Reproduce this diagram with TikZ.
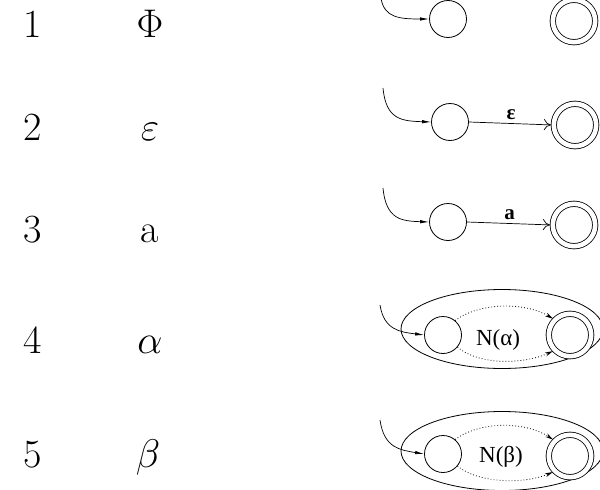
\RequirePackage{fix-cm}
\documentclass[tikz,border=0pt]{standalone}
\usepackage{fontspec}
\newfontfamily\tms{Liberation Serif}
\usetikzlibrary{arrows.meta,shapes.geometric}
\begin{document}
\begin{tikzpicture}[x=1pt,y=-1pt,line width=0.8pt,
  bigtxt/.style={anchor=base,font=\fontsize{40}{48}\selectfont},
  st/.style={circle,draw,minimum size=37pt,inner sep=0pt},
  fin/.style={circle,draw,double,double distance=4.6pt,minimum size=42.4pt,inner sep=0pt},
  box/.style={ellipse,draw,minimum width=202pt,minimum height=79pt,inner sep=0pt},
  entry/.style={-{Latex[length=9pt,width=3.4pt]},line width=0.7pt},
  trans/.style={-{To[length=7pt,width=11pt]},line width=0.7pt,shorten >=2.5pt},
  inner/.style={dash pattern=on 0.8pt off 2.2pt,line width=0.8pt,-{Stealth[length=8pt,width=4pt]},shorten >=2pt},
  lbl/.style={font=\tms\bfseries\fontsize{21}{24}\selectfont,inner sep=1pt},
  nlbl/.style={font=\tms\fontsize{23}{27}\selectfont}]
\useasboundingbox (0,0) rectangle (600,490);

% left column: case number and regular expression
\node[bigtxt] (n1) at (33,37) {1};
\node[bigtxt] (n2) at (33,140) {2};
\node[bigtxt] (n3) at (33,242) {3};
\node[bigtxt] (n4) at (33,353) {4};
\node[bigtxt] (n5) at (33,467) {5};
\node[bigtxt] (r1) at (150,37) {$\Phi$};
\node[bigtxt] (r2) at (150,140) {$\varepsilon$};
\node[bigtxt] (r3) at (150,242) {a};
\node[bigtxt] (r4) at (150,353) {$\alpha$};
\node[bigtxt] (r5) at (148,467) {$\beta$};

% case 1: empty language
\node[st] (s1) at (448,19) {};
\node[fin] (f1) at (574,21) {};
\coordinate (e1) at (381,-2);
\draw[entry] (e1) .. controls (384,18) and (400,19) .. (s1.west);

% case 2: epsilon
\node[st] (s2) at (450,122) {};
\node[fin] (f2) at (575,125) {};
\coordinate (e2) at (383,88);
\draw[entry] (e2) .. controls (386,120) and (402,121) .. (s2.west);
\draw[trans] (s2.east) -- node[lbl,above=2pt] {ε} (f2.west);

% case 3: single symbol
\node[st] (s3) at (448,222) {};
\node[fin] (f3) at (574,225) {};
\coordinate (e3) at (383,188);
\draw[entry] (e3) .. controls (386,220) and (402,221) .. (s3.west);
\draw[trans] (s3.east) -- node[lbl,above=2pt] {a} (f3.west);

% case 4: N(alpha)
\node[box] (b4) at (502,329) {};
\node[st] (s4) at (443,335) {};
\node[fin] (f4) at (570,335) {};
\node[nlbl] (l4) at (498,340) {N(α)};
\coordinate (e4) at (380,305);
\draw[entry] (e4) .. controls (384,330) and (400,332) .. (s4.west);
\draw[inner] (s4.50) .. controls (480,302) and (525,302) .. (f4.135);
\draw[inner] (s4.-40) .. controls (480,366) and (525,364) .. (f4.-135);

% case 5: N(beta)
\node[box] (b5) at (502,451) {};
\node[st] (s5) at (443,454) {};
\node[fin] (f5) at (570,456) {};
\node[nlbl] (l5) at (501,457) {N(β)};
\coordinate (e5) at (380,420);
\draw[entry] (e5) .. controls (384,448) and (400,450) .. (s5.west);
\draw[inner] (s5.50) .. controls (480,421) and (525,421) .. (f5.135);
\draw[inner] (s5.-40) .. controls (480,484) and (525,484) .. (f5.-135);
\end{tikzpicture}
\end{document}
